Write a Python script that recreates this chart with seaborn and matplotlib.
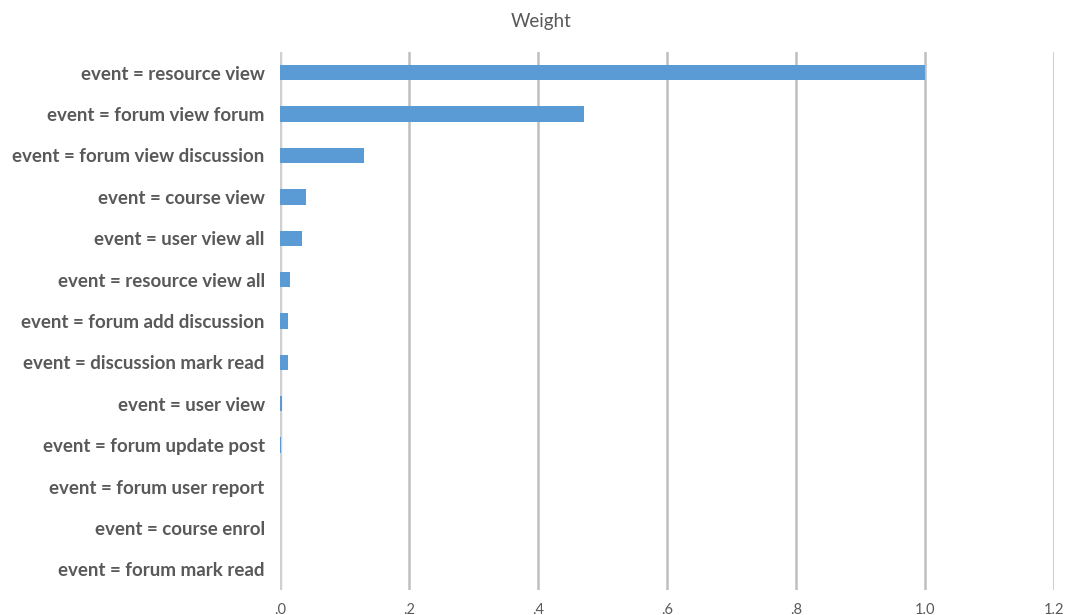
import matplotlib
matplotlib.use("Agg")
import matplotlib.pyplot as plt
import seaborn as sns
import pandas as pd

events = [
    "event = resource view",
    "event = forum view forum",
    "event = forum view discussion",
    "event = course view",
    "event = user view all",
    "event = resource view all",
    "event = forum add discussion",
    "event = discussion mark read",
    "event = user view",
    "event = forum update post",
    "event = forum user report",
    "event = course enrol",
    "event = forum mark read",
]
weights = [1.0, 0.471, 0.130, 0.040, 0.034, 0.0155, 0.0124, 0.012, 0.003, 0.0015, 0.0, 0.0, 0.0]
tick_values = [0.0, 0.2, 0.4, 0.6, 0.8, 1.0, 1.2]
tick_labels = [".0", ".2", ".4", ".6", ".8", "1.0", "1.2"]

df = pd.DataFrame({"event": events, "weight": weights})

sns.set_theme(style="white")
plt.rcParams["font.family"] = ["Lato", "DejaVu Sans"]

fig = plt.figure(figsize=(10.7, 6.15), dpi=100)
ax = fig.add_axes([280 / 1070, 1 - 590 / 615, (1054 - 280) / 1070, (590 - 52) / 615])

sns.barplot(data=df, x="weight", y="event", color="#5b9bd5", width=0.37, ax=ax,
            saturation=1, linewidth=0, zorder=3)

ax.set_xlim(0, 1.2)
ax.set_xticks(tick_values)
ax.set_xticklabels(tick_labels, color="#595959", fontsize=10.5)
ax.tick_params(axis="x", length=0, pad=9)
ax.tick_params(axis="y", length=0, pad=11)
for lbl in ax.get_yticklabels():
    lbl.set_fontweight("bold")
    lbl.set_color("#595959")
    lbl.set_fontsize(13.5)
ax.xaxis.grid(True, color="#bfbfbf", linewidth=1.8, zorder=0)
ax.yaxis.grid(False)
for s in ax.spines.values():
    s.set_visible(False)
ax.axvline(0, color="#d0d0d0", linewidth=2.5, zorder=2)
ax.set_xlabel("")
ax.set_ylabel("")
fig.text(541 / 1070, 1 - 22 / 615, "Weight", ha="center", va="center",
         color="#595959", fontsize=13.5)

fig.savefig("out.png", dpi=100, facecolor="white")
